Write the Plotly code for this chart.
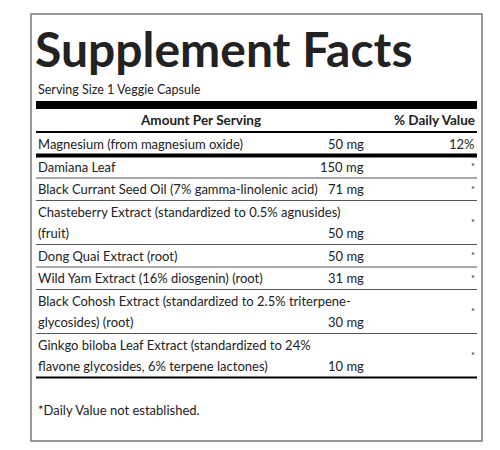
import plotly.graph_objects as go

# Label data
ingredients = [
    ["Magnesium (from magnesium oxide)"],
    ["Damiana Leaf"],
    ["Black Currant Seed Oil (7% gamma-linolenic acid)"],
    ["Chasteberry Extract (standardized to 0.5% agnusides)", "(fruit)"],
    ["Dong Quai Extract (root)"],
    ["Wild Yam Extract (16% diosgenin) (root)"],
    ["Black Cohosh Extract (standardized to 2.5% triterpene-", "glycosides) (root)"],
    ["Ginkgo biloba Leaf Extract (standardized to 24%", "flavone glycosides, 6% terpene lactones)"],
]
amounts = ["50 mg", "150 mg", "71 mg", "50 mg", "50 mg", "31 mg", "30 mg", "10 mg"]
daily_values = ["12%", "*", "*", "*", "*", "*", "*", "*"]

FONT = "Lato, Open Sans, sans-serif"
L, R, AMT_X = 28, 469, 358
LINE_H = 21.5

fig = go.Figure()
shapes = []
ann = []

def text(x, y, s, anchor="left", size=13, bold=False):
    ann.append(dict(x=x, y=y, text=f"<b>{s}</b>" if bold else s, showarrow=False,
                    xanchor=anchor, yanchor="middle", font=dict(family=FONT, size=size, color="#222")))

def hline(y, w, color="#111"):
    shapes.append(dict(type="line", x0=L, x1=R, y0=y, y1=y, line=dict(color=color, width=w)))

# frame
shapes.append(dict(type="rect", x0=23, x1=474, y0=6, y1=433, line=dict(color="#777", width=1.5)))
text(L - 3, 40, "Supplement Facts", size=48, bold=True)
text(L, 81, "Serving Size 1 Veggie Capsule", size=12.5)
shapes.append(dict(type="rect", x0=L, x1=R, y0=93, y1=101, fillcolor="#000", line=dict(width=0)))
text(192, 112, "Amount Per Serving", anchor="center", size=13.5, bold=True)
text(R, 112, "% Daily Value", anchor="right", size=13.5, bold=True)
hline(124, 2, "#000")

y = 125
for i, (names, amt, dv) in enumerate(zip(ingredients, amounts, daily_values)):
    n = len(names)
    h = LINE_H * n + 1
    for k, nm in enumerate(names):
        text(L, y + 11 + LINE_H * k, nm)
    text(AMT_X, y + 11 + LINE_H * (n - 1), amt, anchor="right")
    text(R, y + h / 2, dv, anchor="right", size=13 if dv != "*" else 9)
    y += h
    if i == 0:
        hline(y, 4, "#000")
    elif i == len(ingredients) - 1:
        hline(y, 2, "#000")
    else:
        hline(y, 1.2, "#555")

text(L, 402, "*Daily Value not established.")

fig.update_layout(
    width=500, height=450, margin=dict(l=0, r=0, t=0, b=0),
    plot_bgcolor="white", paper_bgcolor="white",
    xaxis=dict(range=[0, 500], visible=False, fixedrange=True),
    yaxis=dict(range=[450, 0], visible=False, fixedrange=True),
    shapes=shapes, annotations=ann, showlegend=False,
)
fig.write_html("out.html")
